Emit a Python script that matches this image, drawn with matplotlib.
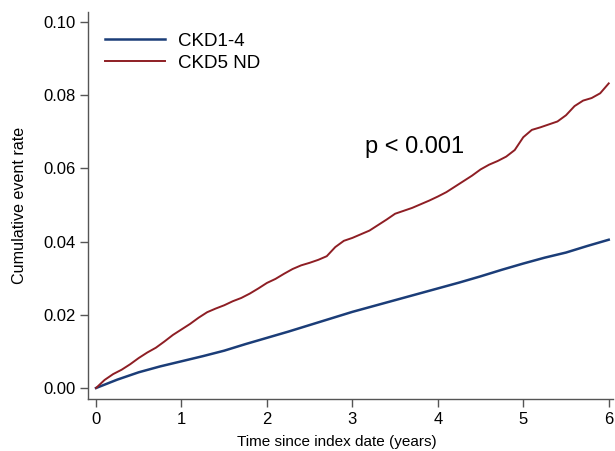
import matplotlib
matplotlib.use("Agg")
import matplotlib.pyplot as plt

plt.rcParams['font.family'] = ['Liberation Sans', 'DejaVu Sans']

# Data
red_t = [0.0, 0.1, 0.2, 0.3, 0.4, 0.5, 0.6, 0.7, 0.8, 0.9, 1.0, 1.1, 1.2, 1.3, 1.4,
         1.5, 1.6, 1.7, 1.8, 1.9, 2.0, 2.1, 2.2, 2.3, 2.4, 2.5, 2.6, 2.7, 2.8, 2.9,
         3.0, 3.1, 3.2, 3.3, 3.4, 3.5, 3.6, 3.7, 3.8, 3.9, 4.0, 4.1, 4.2, 4.3, 4.4,
         4.5, 4.6, 4.7, 4.8, 4.9, 5.0, 5.1, 5.2, 5.3, 5.4, 5.5, 5.6, 5.7, 5.8, 5.9, 6.0]
red_y = [0.0, 0.0022, 0.0038, 0.0050, 0.0065, 0.0082, 0.0097, 0.0110, 0.0127, 0.0145,
         0.0160, 0.0175, 0.0192, 0.0207, 0.0217, 0.0226, 0.0237, 0.0246, 0.0258, 0.0272,
         0.0287, 0.0298, 0.0312, 0.0325, 0.0335, 0.0342, 0.0350, 0.0360, 0.0385, 0.0402,
         0.0410, 0.0420, 0.0430, 0.0445, 0.0460, 0.0476, 0.0484, 0.0492, 0.0502, 0.0512,
         0.0523, 0.0535, 0.0550, 0.0565, 0.0580, 0.0597, 0.0610, 0.0620, 0.0632, 0.0650,
         0.0685, 0.0705, 0.0712, 0.0720, 0.0728, 0.0745, 0.0770, 0.0785, 0.0792, 0.0805, 0.0832]

blue_t = [0.0, 0.25, 0.5, 0.75, 1.0, 1.25, 1.5, 1.75, 2.0, 2.25, 2.5, 2.75, 3.0, 3.25,
          3.5, 3.75, 4.0, 4.25, 4.5, 4.75, 5.0, 5.25, 5.5, 5.75, 6.0]
blue_y = [0.0, 0.0023, 0.0043, 0.0059, 0.0073, 0.0087, 0.0102, 0.0120, 0.0137, 0.0154,
          0.0172, 0.0190, 0.0208, 0.0224, 0.0240, 0.0256, 0.0272, 0.0288, 0.0305, 0.0323,
          0.0340, 0.0356, 0.0370, 0.0388, 0.0405]

series_names = ["CKD1-4", "CKD5 ND"]
xticks = [0, 1, 2, 3, 4, 5, 6]
yticks = [0.00, 0.02, 0.04, 0.06, 0.08, 0.10]
ytick_labels = ["0.00", "0.02", "0.04", "0.06", "0.08", "0.10"]

blue_c = "#1b3d78"
red_c = "#8e1e24"
axis_c = "#555555"

fig = plt.figure(figsize=(6.15, 4.51), dpi=100)
ax = fig.add_axes([88/615, 52/451, 525/615, 387/451])

ax.plot(blue_t, blue_y, color=blue_c, lw=1.8, label=series_names[0])
ax.plot(red_t, red_y, color=red_c, lw=1.4, label=series_names[1])

ax.set_xlim(-0.094, 6.05)
ax.set_ylim(-0.003, 0.1027)
ax.set_xticks(xticks)
ax.set_yticks(yticks)
ax.set_yticklabels(ytick_labels)

for s in ["top", "right"]:
    ax.spines[s].set_visible(False)
for s in ["left", "bottom"]:
    ax.spines[s].set_color(axis_c)
    ax.spines[s].set_linewidth(1.0)
ax.tick_params(axis="both", direction="out", length=6, width=1.0, color=axis_c,
               labelsize=12, labelcolor="black", pad=3)

ax.set_xlabel("Time since index date (years)", fontsize=11, va="center")
ax.xaxis.set_label_coords((337 - 88) / 525, -43 / 387)
ax.set_ylabel("Cumulative event rate", fontsize=11.6, va="center")
ax.yaxis.set_label_coords(-(88 - 20) / 525, 0.5)

ax.text(3.73, 0.0658, "p < 0.001", fontsize=17, ha="center", va="center")

leg = ax.legend(loc="upper left", bbox_to_anchor=((105 - 88) / 525, (399 - 32.5) / 387),
                frameon=False, fontsize=13.5, handlelength=3.2, handletextpad=0.7,
                labelspacing=0.28, borderaxespad=0, borderpad=0)

fig.savefig("out.png", dpi=100)
